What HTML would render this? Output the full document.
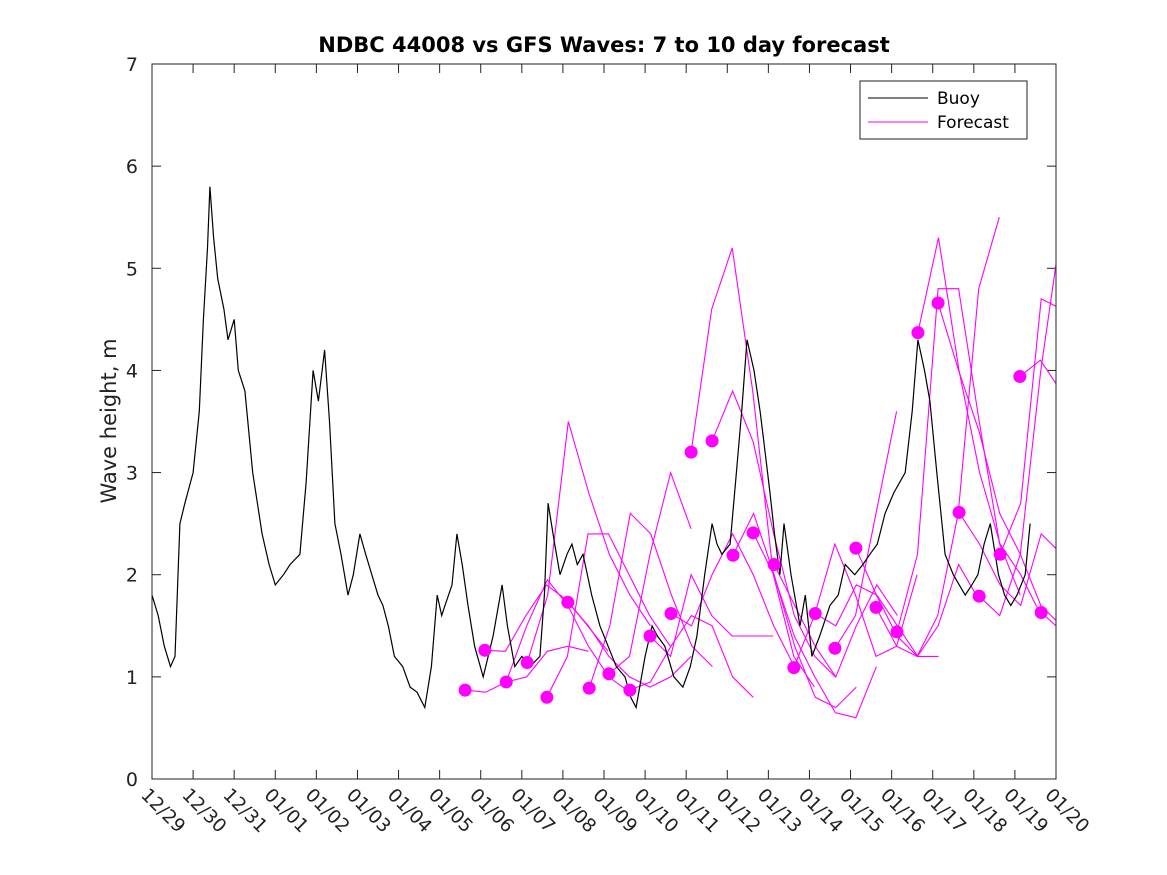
<!DOCTYPE html>
<html><head><meta charset="utf-8"><style>
body{margin:0;background:#fff}
svg{display:block;font-family:"DejaVu Sans","Liberation Sans",sans-serif}
</style></head><body>
<svg id="chart" width="1167" height="875" viewBox="0 0 1167 875">
<defs><clipPath id="clip"><rect x="152" y="64" width="904" height="715"/></clipPath></defs>
<rect width="1167" height="875" fill="#fff"/>
<text x="604" y="52" text-anchor="middle" font-size="21" font-weight="bold" fill="#000">NDBC 44008 vs GFS Waves: 7 to 10 day forecast</text>
<text transform="translate(116,421) rotate(-90)" text-anchor="middle" font-size="21" fill="#222">Wave height, m</text>
<g id="ticks"></g>
<g id="series" clip-path="url(#clip)"></g>
<rect x="152" y="64" width="904" height="715" fill="none" stroke="#222" stroke-width="1"/>
<g>
<rect x="860" y="81" width="167" height="58" fill="#fff" stroke="#222"/>
<line x1="868" y1="98" x2="928" y2="98" stroke="#000"/>
<text x="937" y="104" font-size="17" fill="#000">Buoy</text>
<line x1="868" y1="122" x2="928" y2="122" stroke="#f0f"/>
<text x="937" y="128" font-size="17" fill="#000">Forecast</text>
</g>
</svg>
<script>
const xLabels=["12/29","12/30","12/31","01/01","01/02","01/03","01/04","01/05","01/06","01/07","01/08","01/09","01/10","01/11","01/12","01/13","01/14","01/15","01/16","01/17","01/18","01/19","01/20"];
const yTicks=[0,1,2,3,4,5,6,7];
const buoyDays=[0,0.15,0.3,0.45,0.56,0.68,0.8,1.0,1.15,1.25,1.35,1.41,1.5,1.6,1.75,1.85,2.0,2.1,2.26,2.45,2.68,2.85,3.0,3.2,3.36,3.6,3.75,3.92,4.05,4.2,4.32,4.45,4.6,4.77,4.9,5.06,5.2,5.35,5.5,5.62,5.75,5.9,6.1,6.28,6.45,6.64,6.8,6.94,7.05,7.13,7.3,7.42,7.55,7.69,7.85,8.06,8.3,8.52,8.65,8.83,9.0,9.2,9.44,9.55,9.64,9.8,9.93,10.1,10.22,10.35,10.49,10.7,10.9,11.1,11.3,11.51,11.65,11.78,12.0,12.17,12.3,12.48,12.7,12.92,13.1,13.26,13.45,13.63,13.75,13.87,14.07,14.2,14.35,14.48,14.65,14.8,14.92,15.04,15.15,15.28,15.38,15.55,15.77,15.9,16.06,16.25,16.5,16.7,16.87,17.1,17.3,17.47,17.65,17.84,18.05,18.33,18.5,18.64,18.8,18.93,19.1,19.3,19.5,19.79,19.95,20.1,20.25,20.4,20.6,20.75,20.9,21.05,21.25,21.37];
const buoyVals=[1.8,1.6,1.3,1.1,1.2,2.5,2.7,3.0,3.6,4.5,5.2,5.8,5.3,4.9,4.6,4.3,4.5,4.0,3.8,3.0,2.4,2.1,1.9,2.0,2.1,2.2,2.9,4.0,3.7,4.2,3.5,2.5,2.2,1.8,2.0,2.4,2.2,2.0,1.8,1.7,1.5,1.2,1.1,0.9,0.85,0.7,1.1,1.8,1.6,1.7,1.9,2.4,2.1,1.7,1.3,1.0,1.4,1.9,1.5,1.1,1.2,1.1,1.2,1.8,2.7,2.3,2.0,2.2,2.3,2.1,2.2,1.8,1.5,1.3,1.1,1.0,0.8,0.7,1.2,1.5,1.4,1.3,1.0,0.9,1.1,1.4,2.0,2.5,2.3,2.2,2.3,2.9,3.6,4.3,4.0,3.6,3.2,2.8,2.4,2.0,2.5,2.0,1.5,1.8,1.2,1.4,1.7,1.8,2.1,2.0,2.1,2.2,2.3,2.6,2.8,3.0,3.6,4.3,4.0,3.7,3.0,2.2,2.0,1.8,1.9,2.0,2.3,2.5,2.0,1.8,1.7,1.8,2.0,2.5];
const fcStart=[7.62,8.10,8.62,9.13,9.61,10.12,10.64,11.12,11.63,12.12,12.63,13.12,13.63,14.14,14.63,15.14,15.62,16.14,16.62,17.13,17.62,18.13,18.64,19.13,19.64,20.13,20.64,21.12,21.64];
const dotVals=[0.87,1.26,0.95,1.14,0.80,1.73,0.89,1.03,0.87,1.40,1.62,3.20,3.31,2.19,2.41,2.10,1.09,1.62,1.28,2.26,1.68,1.44,4.37,4.66,2.61,1.79,2.20,3.94,1.63];
const fc01=[0.87,0.85,0.95,1.0,1.25,1.3,1.25];
const fc02=[1.26,1.25,1.6,1.9,1.75,1.5,1.25];
const fc03=[0.95,1.5,1.95,1.7,1.3,1.0,0.85];
const fc04=[1.14,1.8,3.5,2.8,2.2,1.8,1.5];
const fc05=[0.80,1.2,2.4,2.4,2.0,1.6,1.3];
const fc06=[1.73,1.5,1.2,1.0,0.9,1.0,1.2];
const fc07=[0.89,1.5,2.6,2.4,1.8,1.3,1.1];
const fc08=[1.03,1.2,2.2,3.0,2.45];
const fc09=[0.87,0.95,1.3,1.6,1.5,1.0,0.8];
const fc10=[1.40,1.2,2.0,1.6,1.4,1.4,1.4];
const fc11=[1.62,1.5,2.0,2.4,2.0,1.5,1.1];
const fc12=[3.2,4.6,5.2,3.8,2.0,1.2,0.9];
const fc13=[3.31,3.8,3.3,2.4,1.6,1.2,1.0];
const fc14=[2.19,2.6,2.0,1.3,0.8,0.7,0.9];
const fc15=[2.41,2.0,1.4,1.0,0.65,0.6,1.1];
const fc16=[2.10,1.7,1.3,1.0,1.5,1.9,1.6];
const fc17=[1.09,1.6,2.3,1.8,1.2,1.3,2.0];
const fc18=[1.62,1.5,1.9,1.8,1.5,1.2,1.2];
const fc19=[1.28,1.6,2.6,3.6];
const fc20=[2.26,1.8,1.4,1.2,1.5,2.1,1.75];
const fc21=[1.68,1.3,1.2,1.6,2.6,4.8,5.5];
const fc22=[1.44,2.2,4.8,4.8,3.5,2.3,1.8];
const fc23=[4.37,5.3,4.0,3.0,2.3,2.0,1.6];
const fc24=[4.66,4.0,3.4,2.6,2.2,1.7,1.5];
const fc25=[2.61,2.3,1.9,1.7,2.4,2.2,1.3];
const fc26=[1.79,1.6,2.2,4.0,5.4,4.3,3.0];
const fc27=[2.20,2.7,4.7,4.6,3.5,2.6];
const fc28=[3.94,4.1,3.8,3.0];
const fc29=[1.63,1.45,1.25];
const fcSeries=[fc01,fc02,fc03,fc04,fc05,fc06,fc07,fc08,fc09,fc10,fc11,fc12,fc13,fc14,fc15,fc16,fc17,fc18,fc19,fc20,fc21,fc22,fc23,fc24,fc25,fc26,fc27,fc28,fc29];

const NS="http://www.w3.org/2000/svg";
const X0=152,X1=1056,Y0=779,Y1=64;
const xs=d=>X0+d*(X1-X0)/22;
const ys=v=>Y0-v*(Y0-Y1)/7;
const ticks=document.getElementById('ticks');
const series=document.getElementById('series');
function mk(tag,attrs,parent){const e=document.createElementNS(NS,tag);for(const k in attrs)e.setAttribute(k,attrs[k]);parent.appendChild(e);return e;}

xLabels.forEach((lab,i)=>{
  const x=xs(i);
  const t=mk('line',{x1:x,y1:Y0,x2:x,y2:Y0-9,stroke:'#222'},ticks);
  
  
  const t2=mk('line',{x1:x,y1:Y1,x2:x,y2:Y1+9,stroke:'#222'},ticks);
  
  
  const tx=mk('text',{x:0,y:0,'font-size':18.5,fill:'#222',transform:`translate(${x-12},${Y0+17}) rotate(45)`},ticks);
  tx.textContent=lab;
  
  
});
yTicks.forEach(v=>{
  const y=ys(v);
  const t=mk('line',{x1:X0,y1:y,x2:X0+9,y2:y,stroke:'#222'},ticks);
  
  
  const t2=mk('line',{x1:X1,y1:y,x2:X1-9,y2:y,stroke:'#222'},ticks);
  
  
  const tx=mk('text',{x:X0-14,y:y+7,'font-size':19,fill:'#222','text-anchor':'end'},ticks);
  tx.textContent=v;
  
  
});

fcSeries.forEach((vals,i)=>{
  const pts=vals.map((v,j)=>xs(fcStart[i]+j*0.5).toFixed(1)+','+ys(v).toFixed(1)).join(' ');
  const pl=mk('polyline',{points:pts,fill:'none',stroke:'#f0f','stroke-width':1.1},series);
  
  
});
const bp=buoyDays.map((d,i)=>xs(d).toFixed(1)+','+ys(buoyVals[i]).toFixed(1)).join(' ');
const bl=mk('polyline',{points:bp,fill:'none',stroke:'#000','stroke-width':1.2},series);


fcStart.forEach((d,i)=>{
  const c=mk('circle',{cx:xs(d),cy:ys(dotVals[i]),r:6.5,fill:'#f0f'},series);
  
  
});
</script>
</body></html>
